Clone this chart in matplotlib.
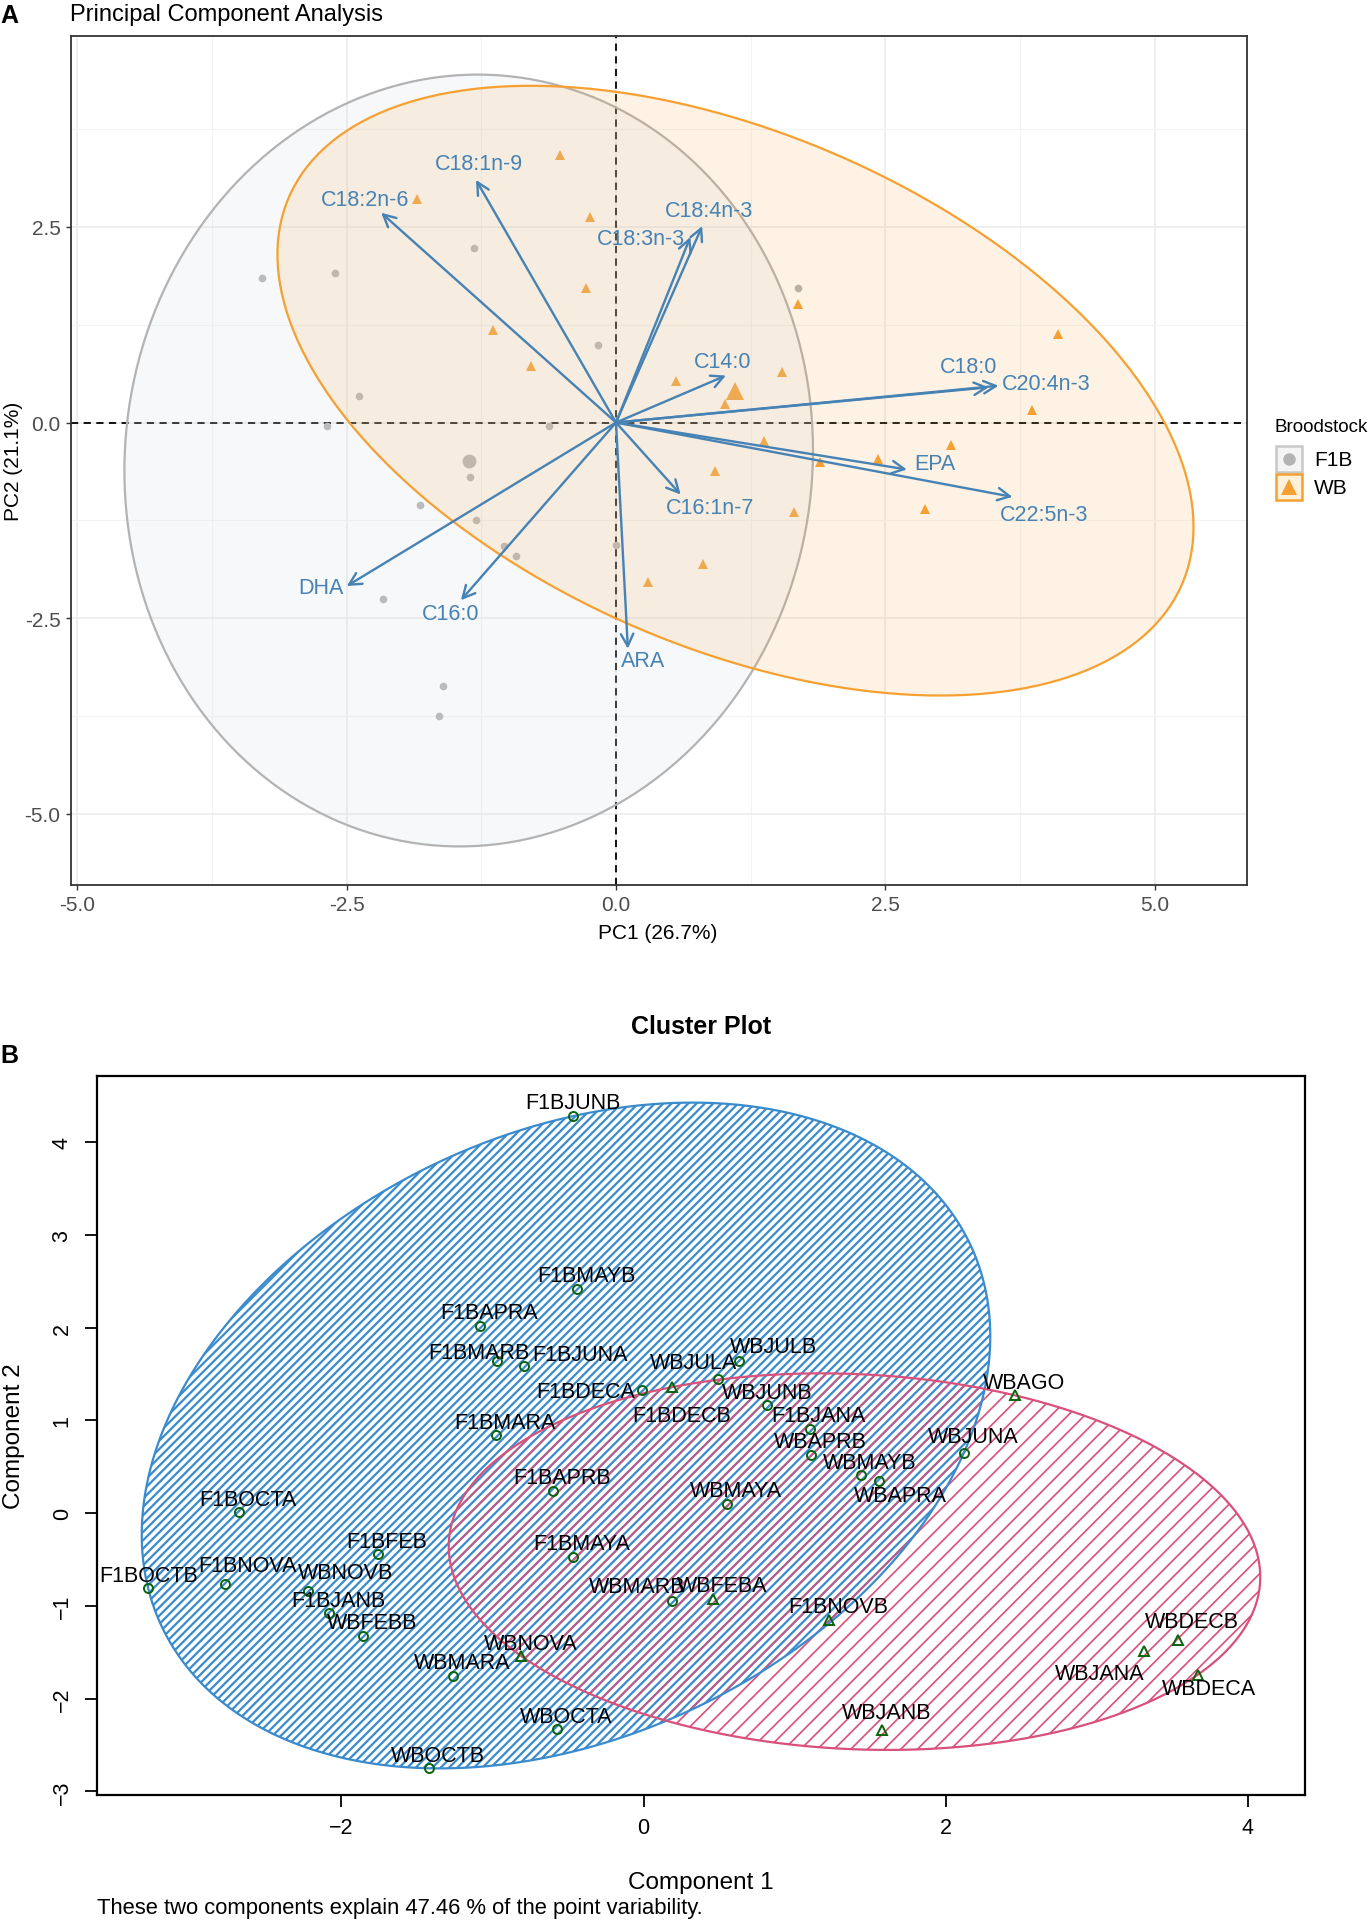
import numpy as np
import matplotlib
matplotlib.use('Agg')
import matplotlib.pyplot as plt
from matplotlib.patches import Polygon, Rectangle
from matplotlib.lines import Line2D

plt.rcParams['font.family'] = ['Liberation Sans', 'DejaVu Sans']

OUTPUT_FILE = 'out.png'
FIG_W, FIG_H, DPI = 1368, 1924, 100

# ---- panel A: individuals on PC1 / PC2, by broodstock
F1B_PC1 = [-3.29, -2.61, -1.32, -2.39, -2.68, -0.62, -0.17, -1.36, -1.82,
           -1.30, -1.04, -0.93, 0.00, -2.16, -1.61, -1.64, 1.69]
F1B_PC2 = [1.85, 1.91, 2.23, 0.34, -0.05, -0.04, 0.99, -0.69, -1.05,
           -1.24, -1.58, -1.70, -1.57, -2.26, -3.36, -3.75, 1.72]
WB_PC1 = [-0.52, -1.85, -0.24, -0.28, -1.14, -0.79, 0.56, 1.69, 4.10, 1.54, 1.01,
          3.86, 1.37, 3.11, 2.43, 1.89, 0.92, 1.65, 2.87, 0.81, 0.30]
WB_PC2 = [3.42, 2.85, 2.63, 1.72, 1.18, 0.72, 0.53, 1.52, 1.13, 0.65, 0.24,
          0.16, -0.23, -0.29, -0.47, -0.50, -0.62, -1.14, -1.10, -1.81, -2.04]
GROUP_NAMES = ['F1B', 'WB']

# variable loadings (arrow tips)
VAR_NAMES = ['C18:2n-6', 'C18:1n-9', 'C18:4n-3', 'C18:3n-3', 'C14:0', 'C18:0',
             'C20:4n-3', 'EPA', 'C22:5n-3', 'C16:1n-7', 'ARA', 'C16:0', 'DHA']
VAR_PC1 = [-2.18, -1.30, 0.80, 0.69, 1.02, 3.46, 3.55, 2.70, 3.68, 0.60, 0.11, -1.44, -2.50]
VAR_PC2 = [2.68, 3.10, 2.51, 2.37, 0.60, 0.45, 0.47, -0.60, -0.95, -0.92, -2.89, -2.27, -2.09]

# where the repelled labels ended up, relative to the arrow tip
VAR_LABEL_NUDGE = {
    'C18:2n-6': (-0.15, 0.17), 'C18:1n-9': (0.03, 0.21), 'C18:4n-3': (0.06, 0.20),
    'C18:3n-3': (-0.46, -0.02), 'C14:0': (-0.03, 0.18), 'C18:0': (-0.19, 0.26),
    'C20:4n-3': (0.44, 0.03), 'EPA': (0.26, 0.08), 'C22:5n-3': (0.29, -0.22),
    'C16:1n-7': (0.27, -0.16), 'ARA': (0.14, -0.15), 'C16:0': (-0.10, -0.17),
    'DHA': (-0.24, -0.02),
}

# ---- panel B: clusplot of the samples
SAMPLE_NAMES = ['F1BJUNB', 'F1BMAYB', 'F1BAPRA', 'F1BMARB', 'F1BJUNA', 'F1BDECA',
                'WBJULA', 'WBJULB', 'WBJUNB', 'F1BDECB', 'WBAGO', 'F1BJANA',
                'WBAPRB', 'WBJUNA', 'WBMAYB', 'WBAPRA', 'WBMAYA', 'F1BMARA',
                'F1BAPRB', 'F1BMAYA', 'F1BOCTA', 'F1BOCTB', 'F1BNOVA', 'WBNOVB',
                'F1BFEB', 'F1BJANB', 'WBFEBB', 'WBMARA', 'WBNOVA', 'WBOCTA',
                'WBOCTB', 'WBMARB', 'WBFEBA', 'F1BNOVB', 'WBJANB', 'WBDECB',
                'WBJANA', 'WBDECA']
COMP1 = [-0.47, -0.44, -1.08, -0.97, -0.79, -0.01, 0.49, 0.63, 0.82, 0.19, 2.46, 1.10,
         1.11, 2.12, 1.44, 1.56, 0.55, -0.98, -0.60, -0.47, -2.68, -3.28, -2.77, -2.22,
         -1.76, -2.08, -1.86, -1.26, -0.81, -0.57, -1.42, 0.19, 0.46, 1.23, 1.58, 3.54,
         3.31, 3.67]
COMP2 = [4.28, 2.42, 2.02, 1.64, 1.59, 1.33, 1.45, 1.64, 1.17, 1.36, 1.27, 0.91,
         0.63, 0.65, 0.41, 0.35, 0.10, 0.84, 0.24, -0.47, 0.01, -0.81, -0.76, -0.84,
         -0.44, -1.08, -1.32, -1.75, -1.54, -2.33, -2.75, -0.95, -0.92, -1.15, -2.34,
         -1.37, -1.49, -1.74]
CLUSTER = [1, 1, 1, 1, 1, 1, 1, 1, 1, 2, 2, 1, 1, 1, 1, 1, 1, 1, 1, 1, 1, 1, 1, 1,
           1, 1, 1, 1, 2, 1, 1, 1, 2, 2, 2, 2, 2, 2]

LABEL_SHIFT_DEFAULT = (0.06, 0.14)
LABEL_SHIFT = {
    'F1BJUNB': (0.0, 0.15), 'F1BMARB': (-0.12, 0.09), 'F1BJUNA': (0.37, 0.12),
    'F1BDECA': (-0.37, -0.02), 'WBJULA': (-0.16, 0.18), 'WBJULB': (0.23, 0.16),
    'WBJUNB': (0.0, 0.13), 'F1BDECB': (0.06, -0.31), 'WBAPRA': (0.14, -0.16),
    'WBMARB': (-0.23, 0.16), 'WBDECB': (0.09, 0.20), 'WBJANA': (-0.29, -0.24),
    'WBDECA': (0.07, -0.15), 'WBJANB': (0.03, 0.19), 'F1BNOVA': (0.15, 0.20),
    'WBNOVB': (0.25, 0.20), 'WBJUNA': (0.06, 0.18), 'F1BOCTB': (0.0, 0.14),
}

GRAY = '#B3B3B3'
ORANGE = '#F5A031'
STEEL = '#4682B4'
CLUS_BLUE = '#3A8BCD'
CLUS_RED = '#D9507A'


def _fx(px):
    return px / FIG_W


def _fy(py):
    return 1 - py / FIG_H


def _norm_ellipse(x, y, level=0.95, segments=200):
    """ Same construction as ggplot's stat_ellipse(type='norm'). """
    pts = np.column_stack([x, y])
    n = len(pts)
    center = pts.mean(axis=0)
    chol = np.linalg.cholesky(np.cov(pts.T))
    # F(2, n-1) quantile has a closed form
    d = n - 1
    f_q = d / 2 * ((1 - level) ** (-2 / d) - 1)
    radius = np.sqrt(2 * f_q)
    t = np.linspace(0, 2 * np.pi, segments)
    circle = np.column_stack([np.cos(t), np.sin(t)])
    return center + radius * circle @ chol.T


def _mvee(points, tol=1e-6, max_iter=20000):
    """ Minimum volume enclosing ellipse (Khachiyan), like cluster::ellipsoidhull. """
    n, d = points.shape
    q = np.vstack([points.T, np.ones(n)])
    u = np.ones(n) / n
    for _ in range(max_iter):
        x = (q * u) @ q.T
        m = np.sum((np.linalg.solve(x, q)) * q, axis=0)
        j = np.argmax(m)
        step = (m[j] - d - 1) / ((d + 1) * (m[j] - 1))
        new_u = (1 - step) * u
        new_u[j] += step
        err = np.linalg.norm(new_u - u)
        u = new_u
        if err < tol:
            break
    center = points.T @ u
    shape = np.linalg.inv((points.T * u) @ points - np.outer(center, center)) / d
    w, v = np.linalg.eigh(shape)
    t = np.linspace(0, 2 * np.pi, 361)
    circle = np.vstack([np.cos(t), np.sin(t)])
    return (center[:, None] + v @ (circle / np.sqrt(w)[:, None])).T


def _draw_legend(fig, styles):
    """ ggplot-like legend: square keys with the group colour as border. """
    fig.text(_fx(1275), _fy(427), 'Broodstock', ha='left', va='center', fontsize=13.5)
    top = 447
    for name in GROUP_NAMES:
        col, box_edge, box_fill, mk, ms = styles[name]
        fig.add_artist(Rectangle((_fx(1276), _fy(top + 26)), _fx(26), _fy(0) - _fy(26),
                                 transform=fig.transFigure, facecolor=box_fill, edgecolor=box_edge, lw=1.8))
        fig.add_artist(Line2D([_fx(1289)], [_fy(top + 13)], transform=fig.transFigure, ls='none',
                              marker=mk, color=col, markersize=ms, mew=0))
        fig.text(_fx(1314), _fy(top + 13), name, ha='left', va='center', fontsize=15)
        top += 28


def _plot_pca(fig):
    ax = fig.add_axes([_fx(71), _fy(886), _fx(1247) - _fx(71), _fy(37) - _fy(886)])

    groups = [
        (F1B_PC1, F1B_PC2, GRAY, '#D8DCE6', 0.2, 'o', 5.5, 10),
        (WB_PC1, WB_PC2, ORANGE, ORANGE, 0.13, '^', 7, 13),
    ]
    outlines = []
    for x, y, col, fill, alpha, mk, ms, ms_mean in groups:
        ax.plot(x, y, ls='none', marker=mk, color=col, markersize=ms, mew=0, zorder=2)
        ax.plot(np.mean(x), np.mean(y), marker=mk, color=col, markersize=ms_mean, mew=0, zorder=2)
        ell = _norm_ellipse(x, y)
        ax.add_patch(Polygon(ell, closed=True, facecolor=fill, alpha=alpha, edgecolor='none', zorder=3))
        ax.add_patch(Polygon(ell, closed=True, fill=False, edgecolor=col, lw=1.6, zorder=3))
        outlines.append(ell)

    ax.axhline(0, color='black', ls=(0, (4, 3)), lw=1.3, zorder=1)
    ax.axvline(0, color='black', ls=(0, (4, 3)), lw=1.3, zorder=1)

    for name, px, py in zip(VAR_NAMES, VAR_PC1, VAR_PC2):
        ax.annotate('', xy=(px, py), xytext=(0, 0),
                    arrowprops=dict(arrowstyle='->,head_length=0.55,head_width=0.28', color=STEEL,
                                    lw=1.7, shrinkA=0, shrinkB=0, mutation_scale=16), zorder=4)
        dx, dy = VAR_LABEL_NUDGE[name]
        ax.text(px + dx, py + dy, name, color=STEEL, ha='center', va='center', fontsize=15.5, zorder=5)

    xt = [-5.0, -2.5, 0.0, 2.5, 5.0]
    yt = [-5.0, -2.5, 0.0, 2.5]
    ax.set_xticks(xt, ['{:.1f}'.format(v) for v in xt])
    ax.set_yticks(yt, ['{:.1f}'.format(v) for v in yt])
    ax.set_xticks([v - 1.25 for v in xt] + [6.25], minor=True)
    ax.set_yticks([v - 1.25 for v in yt] + [3.75], minor=True)

    # ggplot style limits: data range expanded by 5 % (set after the ticks)
    all_pts = np.vstack(outlines + [np.column_stack([VAR_PC1, VAR_PC2])])
    lo, hi = all_pts.min(axis=0), all_pts.max(axis=0)
    pad = (hi - lo) * 0.05
    ax.set_xlim(lo[0] - pad[0], hi[0] + pad[0])
    ax.set_ylim(lo[1] - pad[1], hi[1] + pad[1])

    ax.grid(which='major', color='#EBEBEB', lw=1.1, zorder=0)
    ax.grid(which='minor', color='#F3F3F3', lw=0.8, zorder=0)
    ax.set_axisbelow(True)
    ax.tick_params(which='major', length=3.5, width=1, color='#333333', labelcolor='#4D4D4D',
                   labelsize=15, pad=4)
    ax.tick_params(which='minor', length=0)
    for sp in ax.spines.values():
        sp.set_color('#333333')
        sp.set_linewidth(1.3)

    fig.text(_fx(658), _fy(934), 'PC1 (26.7%)', ha='center', va='center', fontsize=15)
    fig.text(_fx(14), _fy(461), 'PC2 (21.1%)', ha='center', va='center', rotation=90, fontsize=15)
    fig.text(_fx(70), _fy(15), 'Principal Component Analysis', ha='left', va='center', fontsize=17)
    fig.text(_fx(0), _fy(16), 'A', ha='left', va='center', fontsize=18, fontweight='bold')

    _draw_legend(fig, {
        'F1B': (GRAY, '#C8C8C8', '#F4F4F4', 'o', 9),
        'WB': (ORANGE, ORANGE, '#FDF1DC', '^', 11),
    })
    return ax


def _plot_cluster(fig):
    ax = fig.add_axes([_fx(97), _fy(1796), _fx(1305) - _fx(97), _fy(1077) - _fy(1796)])

    comp = np.column_stack([COMP1, COMP2])
    clus = np.array(CLUSTER)
    styles = {1: (CLUS_BLUE, '////', 1.6, 'o', 6.5), 2: (CLUS_RED, '//', 1.2, '^', 7.5)}

    outlines = []
    for k in (1, 2):
        col, hatch, hlw, mk, ms = styles[k]
        ell = _mvee(comp[clus == k])
        plt.rcParams['hatch.linewidth'] = hlw
        ax.add_patch(Polygon(ell, closed=True, facecolor='none', edgecolor=col, hatch=hatch, lw=0, zorder=1))
        outlines.append((ell, col))
    for ell, col in outlines:
        ax.add_patch(Polygon(ell, closed=True, fill=False, edgecolor=col, lw=1.6, zorder=2))

    for k in (1, 2):
        col, hatch, hlw, mk, ms = styles[k]
        sel = clus == k
        ax.plot(comp[sel, 0], comp[sel, 1], ls='none', marker=mk, mfc='none', mec='#0A640A',
                markersize=ms, mew=1.4, zorder=3)

    for name, x, y in zip(SAMPLE_NAMES, COMP1, COMP2):
        dx, dy = LABEL_SHIFT.get(name, LABEL_SHIFT_DEFAULT)
        ax.text(x + dx, y + dy, name, ha='center', va='center', fontsize=15.5, zorder=4)

    ax.set_xticks([-2, 0, 2, 4])
    ax.set_yticks(range(-3, 5))

    # base R style limits: range of points and ellipses, expanded by 4 %
    all_pts = np.vstack([e for e, c in outlines] + [comp])
    lo, hi = all_pts.min(axis=0), all_pts.max(axis=0)
    pad = (hi - lo) * 0.04
    ax.set_xlim(lo[0] - pad[0], hi[0] + pad[0])
    ax.set_ylim(lo[1] - pad[1], hi[1] + pad[1])

    ax.tick_params(length=8.5, width=1.3, labelsize=15.5, pad=7)
    ax.tick_params(axis='y', labelrotation=90, pad=9)
    for lab in ax.get_yticklabels():
        lab.set_va('center')
    for sp in ax.spines.values():
        sp.set_linewidth(1.6)

    fig.text(_fx(701), _fy(1027), 'Cluster Plot', ha='center', va='center', fontsize=18, fontweight='bold')
    fig.text(_fx(701), _fy(1883), 'Component 1', ha='center', va='center', fontsize=17.5)
    fig.text(_fx(14), _fy(1436), 'Component 2', ha='center', va='center', rotation=90, fontsize=17.5)
    fig.text(_fx(97), _fy(1909), 'These two components explain 47.46 % of the point variability.',
             ha='left', va='center', fontsize=15.8)
    fig.text(_fx(0), _fy(1056), 'B', ha='left', va='center', fontsize=18, fontweight='bold')
    return ax


def main():
    fig = plt.figure(figsize=(FIG_W / DPI, FIG_H / DPI), dpi=DPI)
    fig.patch.set_facecolor('white')
    _plot_pca(fig)
    _plot_cluster(fig)
    fig.savefig(OUTPUT_FILE, dpi=DPI)


if __name__ == "__main__":
    main()
